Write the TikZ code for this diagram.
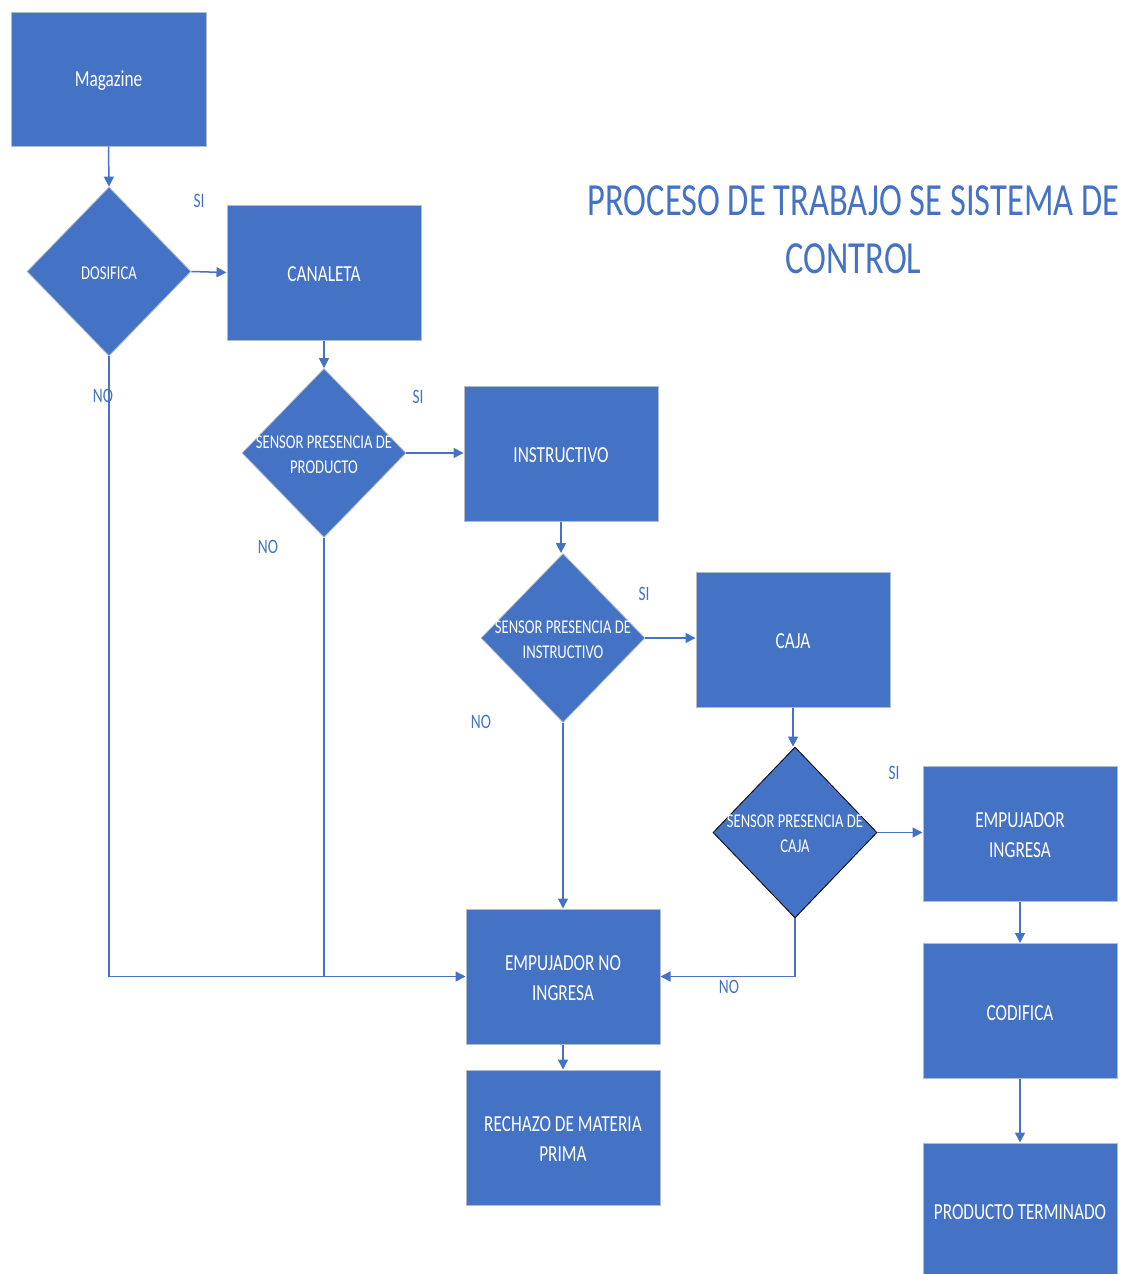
\documentclass[tikz,border=0pt]{standalone}
\usepackage{fontspec}
\setmainfont{Carlito}[FakeStretch=0.75]
\usetikzlibrary{shapes.geometric,arrows.meta}
\definecolor{officeblue}{HTML}{4472C4}
\definecolor{rimgray}{HTML}{B4BCCB}
\tikzset{
  stepbox/.style={rectangle, fill=officeblue, draw=rimgray, line width=1pt,
    minimum width=194pt, minimum height=135pt, inner sep=0pt},
  boxtext/.style={text=white, align=center, inner sep=0pt, yshift=-2pt,
    font=\fontsize{23}{30}\selectfont},
  decision/.style={diamond, fill=officeblue, draw=rimgray, line width=0.8pt,
    minimum width=164pt, minimum height=169pt, inner sep=0pt},
  dtext/.style={text=white, align=center, inner sep=0pt, yshift=-1.5pt,
    font=\fontsize{19.5}{25}\selectfont},
  flow/.style={draw=officeblue, line width=1.5pt,
    -{Triangle[length=10pt,width=10pt]}},
  plain/.style={draw=officeblue, line width=1.5pt},
  tag/.style={text=officeblue, inner sep=0pt, font=\fontsize{20.5}{24}\selectfont}
}
\begin{document}
\begin{tikzpicture}[x=1pt,y=-1pt]
\useasboundingbox (0,0) rectangle (1137,1274);

% process boxes
\node[stepbox, minimum width=195pt, minimum height=134pt] (mag) at (108.5,79) {};
\node[stepbox] (can)   at (324,272.5)  {};
\node[stepbox] (ins)   at (561,453.5)  {};
\node[stepbox] (caja)  at (793,639.5)  {};
\node[stepbox] (empi)  at (1020,833.5) {};
\node[stepbox] (noing) at (563,976.5)  {};
\node[stepbox] (rech)  at (563,1137.5) {};
\node[stepbox] (cod)   at (1020,1011)  {};
\node[stepbox] (prod)  at (1020,1210.5) {};

% box captions
\node[boxtext] (magt)   at (mag.center)   {Magazine};
\node[boxtext] (cant)   at (can.center)   {CANALETA};
\node[boxtext] (inst)   at (ins.center)   {INSTRUCTIVO};
\node[boxtext] (cajat)  at (caja.center)  {CAJA};
\node[boxtext] (empit)  at (empi.center)  {EMPUJADOR\\INGRESA};
\node[boxtext] (noingt) at (noing.center) {EMPUJADOR NO\\INGRESA};
\node[boxtext] (recht)  at (rech.center)  {RECHAZO DE MATERIA\\PRIMA};
\node[boxtext] (codt)   at (cod.center)   {CODIFICA};
\node[boxtext] (prodt)  at (prod.center)  {PRODUCTO TERMINADO};

% decisions
\node[decision] (d1) at (109,271.5) {};
\node[dtext] (t1) at (d1.center) {DOSIFICA};
\node[decision] (d2) at (324,453) {};
\node[dtext] (t2) at (d2.center) {SENSOR PRESENCIA DE\\PRODUCTO};
\node[decision] (d3) at (563,638) {};
\node[dtext] (t3) at (d3.center) {SENSOR PRESENCIA DE\\INSTRUCTIVO};
\node[decision, draw=black, minimum height=171pt] (d4) at (795,832.5) {};
\node[dtext] (t4) at (d4.center) {SENSOR PRESENCIA DE\\CAJA};

% main flow
\draw[flow] (mag.south) -- (d1.north);
\draw[flow] (d1.east) -- (can.west);
\draw[flow] (can.south) -- (d2.north);
\draw[flow] (d2.east) -- (d2.east -| ins.west);
\draw[flow] (ins.south) -- (ins.south |- d3.north);
\draw[flow] (d3.east) -- (d3.east -| caja.west);
\draw[flow] (caja.south) -- (caja.south |- d4.north);
\draw[flow] (d4.east) -- (d4.east -| empi.west);
\draw[flow] (empi.south) -- (cod.north);
\draw[flow] (cod.south) -- (prod.north);

% rejection paths
\draw[flow] (d1.south) |- (noing.west);
\draw[plain] (d2.south) -- (d2.south |- noing.west);
\draw[flow] (d3.south) -- (noing.north);
\draw[flow] (d4.south) |- (noing.east);
\draw[flow] (noing.south) -- (rech.north);

% branch labels
\node[tag] (si1) at (199,201) {SI};
\node[tag] (no1) at (103,396) {NO};
\node[tag] (si2) at (418,397) {SI};
\node[tag] (no2) at (268,547) {NO};
\node[tag] (si3) at (644,594) {SI};
\node[tag] (no3) at (481,722) {NO};
\node[tag] (si4) at (894,773) {SI};
\node[tag] (no4) at (729,987) {NO};

% heading
\node[text=officeblue, align=center, inner sep=0pt,
  font=\fontsize{46}{58}\selectfont] (title) at (853.5,230)
  {PROCESO DE TRABAJO SE SISTEMA DE\\CONTROL};
\end{tikzpicture}
\end{document}
